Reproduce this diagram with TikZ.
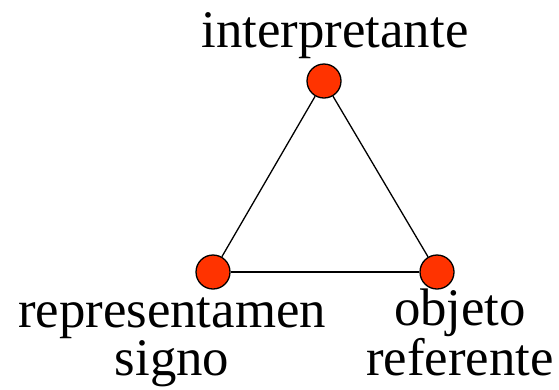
\documentclass[tikz,border=0pt]{standalone}
\usepackage{fontspec}
\setmainfont{Liberation Serif}
\definecolor{dotred}{HTML}{FF3300}
\begin{document}
\begin{tikzpicture}[x=1bp,y=-1bp,
  dot/.style={circle,draw=black,line width=1.3bp,fill=dotred,minimum size=34bp,inner sep=0pt},
  lbl/.style={anchor=base,inner sep=0pt,align=center,font=\fontsize{53}{42}\selectfont},
  edge/.style={draw=black,line width=1.3bp}]
\useasboundingbox (0,0) rectangle (559,389);
\node[dot] (i) at (324,81) {};
\node[dot] (r) at (213,272) {};
\node[dot] (o) at (437,272) {};
\draw[edge] (i) -- (r);
\draw[edge] (r) -- (o);
\draw[edge] (o) -- (i);
\node[lbl] (ti) at (335,47) {interpretante};
\node[lbl] (tr) at (172,375) {representamen\\signo};
\node[lbl] (to) at (460,375) {objeto\\referente};
\end{tikzpicture}
\end{document}
